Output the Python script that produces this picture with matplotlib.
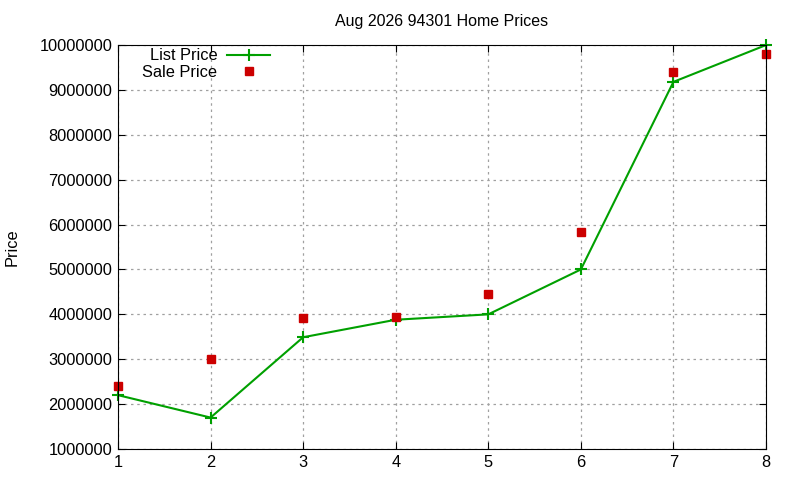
import matplotlib
matplotlib.use("Agg")
import matplotlib.pyplot as plt

# données
months = [1, 2, 3, 4, 5, 6, 7, 8]
list_price = [2200000, 1700000, 3490000, 3880000, 4000000, 5000000, 9180000, 10000000]
sale_price = [2410000, 3000000, 3920000, 3950000, 4460000, 5840000, 9410000, 9790000]
y_ticks = [1000000, 2000000, 3000000, 4000000, 5000000, 6000000, 7000000, 8000000, 9000000, 10000000]

plt.rcParams['font.family'] = ['Liberation Sans', 'DejaVu Sans']
plt.rcParams['font.size'] = 11.8

fig = plt.figure(figsize=(8, 4.8), dpi=100)
ax = fig.add_axes([0.1475, 0.0646, 0.81, 0.8415])

ax.plot(months, list_price, color='#00a000', linewidth=1.5, marker='+',
        markersize=9, markeredgewidth=1.5, label='List Price', clip_on=False)
ax.plot(months, sale_price, linestyle='none', color='#cc0000', marker='s',
        markersize=6, label='Sale Price', clip_on=False)

ax.set_xlim(1, 8)
ax.set_ylim(1000000, 10000000)
ax.set_xticks(months)
ax.set_yticks(y_ticks)
ax.set_yticklabels([str(v) for v in y_ticks])
ax.tick_params(direction='in', top=True, right=True, length=5, pad=4)
ax.grid(True, color='#a0a0a0', linestyle=(0, (2, 3)), linewidth=0.9)

ax.set_title('Aug 2026 94301 Home Prices', fontsize=11.5, pad=14)
ax.set_ylabel('Price', labelpad=14)

leg = ax.legend(loc='upper left', bbox_to_anchor=(0.02, 1.02), frameon=False,
                markerfirst=False, handlelength=2.6, handletextpad=0.6,
                labelspacing=0.1, borderaxespad=0.3)
for t in leg.get_texts():
    t.set_ha('right')
leg._legend_box.align = 'right'

fig.savefig('out.png', dpi=100)
